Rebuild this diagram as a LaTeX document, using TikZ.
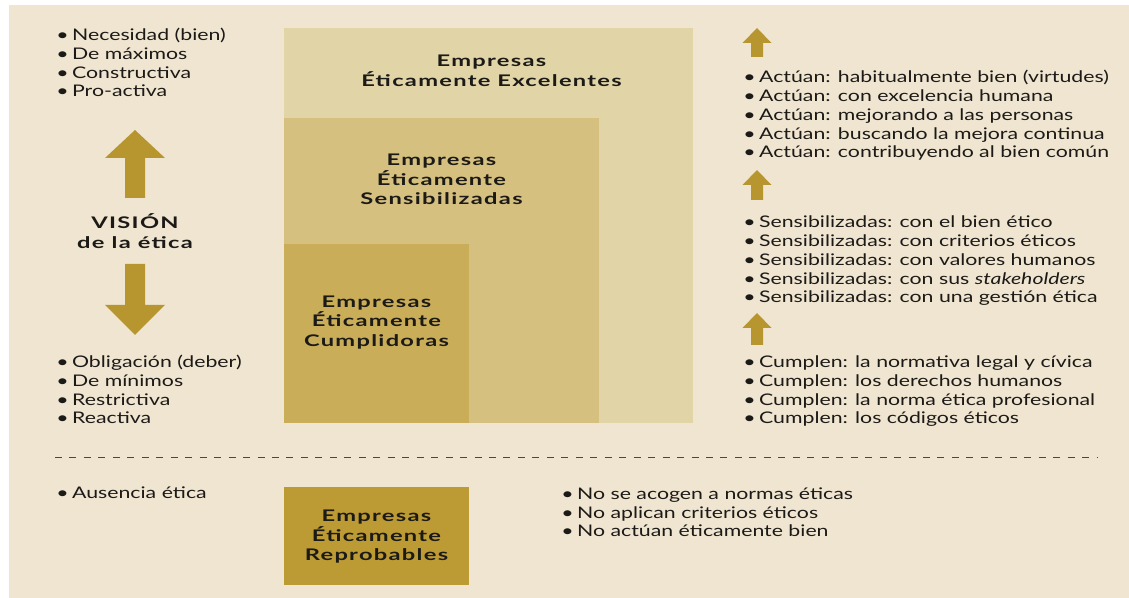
\documentclass[tikz,border=0pt]{standalone}
\usepackage{fontspec}
\setmainfont{Lato}[FakeStretch=1.33]
\newfontfamily\titlefont{Lato}[FakeStretch=1.48, LetterSpace=8]
\usepackage{tikz}
\usetikzlibrary{positioning,calc}
\definecolor{EthBack}{HTML}{F0E5D1}
\definecolor{EthExcel}{HTML}{E1D4A7}
\definecolor{EthSens}{HTML}{D5C07F}
\definecolor{EthCumpl}{HTML}{C9AD58}
\definecolor{EthRepro}{HTML}{BD9B34}
\definecolor{EthArrow}{HTML}{B8962F}
\definecolor{EthInk}{HTML}{1C1A17}
\newcommand{\itembul}{\textbullet\hspace{0.22em}}

\begin{document}
\begin{tikzpicture}[
  x=0.75pt, y=-0.75pt,
  level/.style={anchor=north west, inner sep=0pt, outer sep=0pt},
  title/.style={font=\titlefont\bfseries\fontsize{12}{14.6}\selectfont, align=center, text=EthInk, inner sep=0pt},
  items/.style={font=\fontsize{12}{14.1}\selectfont, align=left, anchor=base west, inner sep=0pt, text=EthInk},
  pics/fatarrow/.style n args={4}{code={
    \fill[EthArrow] (0,0) -- (-#1,#2) -- (-#3,#2) -- (-#3,#4) -- (#3,#4) -- (#3,#2) -- (#1,#2) -- cycle;}}
]
\useasboundingbox (0,0) rectangle (1129,598);
\fill[white] (0,0) rectangle (1129,598);
\fill[EthBack] (9,5) rectangle (1129,598);

% nested levels
\node[level, fill=EthExcel, minimum width=306.75pt, minimum height=296.25pt] (exc) at (284,28) {};
\node[level, fill=EthSens, minimum width=236.25pt, minimum height=228.75pt] (sen) at (284,118) {};
\node[level, fill=EthCumpl, minimum width=138.75pt, minimum height=134.25pt] (cum) at (284,244) {};
\node[level, fill=EthRepro, minimum width=138.75pt, minimum height=73.5pt] (rep) at (284,487) {};

\node[title] (excT) at ($(exc.north)+(3,43)$) {Empresas\\Éticamente Excelentes};
\node[title] (senT) at ($(sen.north)+(0,61.5)$) {Empresas\\Éticamente\\Sensibilizadas};
\node[title] (cumT) at ($(cum.north)+(0,78.5)$) {Empresas\\Éticamente\\Cumplidoras};
\node[title] (repT) at ($(rep)+(0,1)$) {Empresas\\Éticamente\\Reprobables};

% left column (anchors sit on the last line)
\node[items] (maxL) at (56,97) {\itembul Necesidad (bien)\\\itembul De máximos\\\itembul Constructiva\\\itembul Pro-activa};
\pic at (135,130) {fatarrow={30}{28}{10}{68}};
\node[title] (vision) at (135,231) {VISIÓN\\de la ética};
\pic[rotate=180] at (135,335) {fatarrow={30}{30}{10}{71}};
\node[items] (minL) at (56,424) {\itembul Obligación (deber)\\\itembul De mínimos\\\itembul Restrictiva\\\itembul Reactiva};

% right column
\pic at (757,28) {fatarrow={14.5}{15}{6}{29}};
\node[items] (actR) at (743,158) {\itembul Actúan: habitualmente bien (virtudes)\\\itembul Actúan: con excelencia humana\\\itembul Actúan: mejorando a las personas\\\itembul Actúan: buscando la mejora continua\\\itembul Actúan: contribuyendo al bien común};
\pic at (757,170) {fatarrow={14.5}{15}{6}{30}};
\node[items] (senR) at (743,303) {\itembul Sensibilizadas: con el bien ético\\\itembul Sensibilizadas: con criterios éticos\\\itembul Sensibilizadas: con valores humanos\\\itembul Sensibilizadas: con sus \textit{stakeholders}\\\itembul Sensibilizadas: con una gestión ética};
\pic at (757,313) {fatarrow={14.5}{15}{6}{32}};
\node[items] (cumR) at (743,424) {\itembul Cumplen: la normativa legal y cívica\\\itembul Cumplen: los derechos humanos\\\itembul Cumplen: la norma ética profesional\\\itembul Cumplen: los códigos éticos};

% separator
\coordinate (sepL) at (55,457);
\coordinate (sepR) at (1097,457);
\draw[EthInk!80, line width=0.6pt, dash pattern=on 5.25pt off 5.6pt] (sepL) -- (sepR);

\node[items] (ausL) at (56,499) {\itembul Ausencia ética};
\node[items] (repR) at (561,537) {\itembul No se acogen a normas éticas\\\itembul No aplican criterios éticos\\\itembul No actúan éticamente bien};
\end{tikzpicture}
\end{document}
